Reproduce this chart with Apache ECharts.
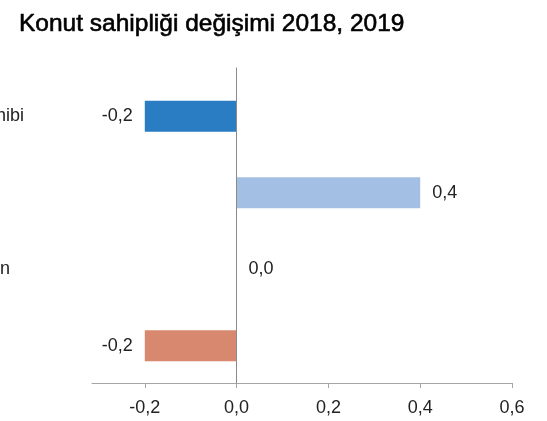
<!DOCTYPE html>
<html>
<head>
<meta charset="utf-8">
<title>Konut sahipliği değişimi</title>
<script src="https://cdn.jsdelivr.net/npm/echarts@6/dist/echarts.min.js"></script>
<style>
  html, body { margin: 0; padding: 0; background: #fff; }
  #chart { width: 547px; height: 421px; }
</style>
</head>
<body>
<div id="chart"></div>
<script>
// data
const categories = ['Ev sahibi', 'Kiracı', 'Lojman', 'Diğer']
const changes = [-0.2, 0.4, 0.0, -0.2]
const tickValues = [-0.2, 0.0, 0.2, 0.4, 0.6]

// styles
const barColors = ['#2a7dc2', '#a3bfe3', '#ffffff', '#d8886f']
const font = 'Liberation Sans, Arial, sans-serif'
const xMin = -0.315
const xMax = 0.6

const fmt = v => v.toFixed(1).replace('.', ',')

const chart = echarts.init(document.getElementById('chart'), null, { renderer: 'canvas' })

const option = {
  animation: false,
  backgroundColor: '#fff',
  title: {
    text: 'Konut sahipliği değişimi 2018, 2019',
    left: 14,
    top: 7,
    textStyle: {
      fontFamily: font,
      fontSize: 24.5,
      fontWeight: 'normal',
      color: '#000',
      textBorderColor: '#000',
      textBorderWidth: 0.6
    }
  },
  grid: [
    // frame: x axis and the vertical zero line
    { left: 92, right: 35, top: 68, bottom: 38, outerBoundsMode: 'none' },
    // bars
    { left: 92, right: 35, top: 78, bottom: 37, outerBoundsMode: 'none' }
  ],
  xAxis: [
    {
      gridIndex: 0,
      type: 'value',
      min: xMin,
      max: xMax,
      axisLine: { show: true, lineStyle: { color: '#a6a6a6', width: 1 } },
      axisTick: { show: true, length: 5, customValues: tickValues, lineStyle: { color: '#a6a6a6' } },
      axisLabel: {
        customValues: tickValues,
        formatter: fmt,
        margin: 16,
        fontFamily: font,
        fontSize: 18,
        color: '#222'
      },
      splitLine: { show: false }
    },
    { gridIndex: 1, type: 'value', min: xMin, max: xMax, show: false }
  ],
  yAxis: [
    {
      gridIndex: 0,
      type: 'value',
      min: 0,
      max: 1,
      z: 5,
      axisLine: { show: true, onZero: true, lineStyle: { color: '#8a8a8a', width: 1 } },
      axisTick: { show: false },
      axisLabel: { show: false },
      splitLine: { show: false }
    },
    {
      gridIndex: 1,
      type: 'category',
      inverse: true,
      data: categories,
      axisLine: { show: false, onZero: false },
      axisTick: { show: false },
      axisLabel: {
        interval: 0,
        align: 'left',
        margin: 141,
        fontFamily: font,
        fontSize: 18,
        color: '#222'
      }
    }
  ],
  series: [
    {
      type: 'bar',
      xAxisIndex: 1,
      yAxisIndex: 1,
      barWidth: 31,
      data: changes.map((v, i) => ({
        value: v,
        itemStyle: { color: barColors[i] },
        label: { position: v < 0 ? 'left' : 'right' }
      })),
      label: {
        show: true,
        distance: 12,
        formatter: p => fmt(p.value),
        fontFamily: font,
        fontSize: 18,
        color: '#222'
      }
    }
  ]
}

chart.setOption(option)
</script>
</body>
</html>
